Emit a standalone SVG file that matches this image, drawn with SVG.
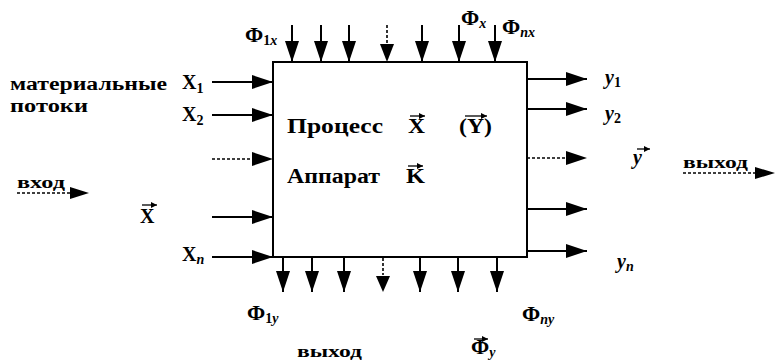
<svg xmlns="http://www.w3.org/2000/svg" width="775" height="361" viewBox="0 0 775 361">
<defs>
<marker id="ah" markerUnits="userSpaceOnUse" markerWidth="22" markerHeight="14" refX="21" refY="7" orient="auto">
<path d="M0,0 L21,7 L0,14 Z" fill="#000"/>
</marker>
<marker id="vh" markerUnits="userSpaceOnUse" markerWidth="6" markerHeight="6" refX="6" refY="3" orient="auto">
<path d="M0,0 L6,3 L0,6 Z" fill="#000"/>
</marker>
<style>
.t{font-family:"Liberation Serif","Times New Roman","DejaVu Serif",serif;font-weight:bold;fill:#000;font-size:20px}
.f{font-size:22px}
.s{font-size:14px}
.i{font-style:italic}
.ln{stroke:#000;stroke-width:2;fill:none}
.ar{stroke:#000;stroke-width:2;fill:none;marker-end:url(#ah)}
.dt{stroke:#000;stroke-width:1.6;fill:none;stroke-dasharray:3 2}
.vec{stroke:#000;stroke-width:1.3;fill:none;marker-end:url(#vh)}
</style>
</defs>
<rect width="775" height="361" fill="#fff"/>

<g id="apparatus">
<rect x="273" y="62" width="254" height="195" class="ln"/>
<text class="t" x="287" y="133" textLength="96" lengthAdjust="spacingAndGlyphs">Процесс</text>
<text class="t" x="408" y="133" textLength="17" lengthAdjust="spacingAndGlyphs">X</text>
<line class="vec" x1="410" y1="116" x2="425" y2="116"/>
<text class="t" x="459" y="133" textLength="33" lengthAdjust="spacingAndGlyphs">(Y)</text>
<line class="vec" x1="465" y1="116" x2="487" y2="116"/>
<text class="t" x="287" y="183" textLength="93" lengthAdjust="spacingAndGlyphs">Аппарат</text>
<text class="t" x="406" y="183" textLength="19" lengthAdjust="spacingAndGlyphs">K</text>
<line class="vec" x1="408" y1="166" x2="423" y2="166"/>
</g>

<g id="connectors">
<line class="ar" x1="292" y1="25" x2="292" y2="62"/>
<line class="ar" x1="321" y1="25" x2="321" y2="62"/>
<line class="ar" x1="349" y1="25" x2="349" y2="62"/>
<line class="dt" x1="387" y1="25" x2="387" y2="44"/>
<path d="M380,44 L394,44 L387,62 Z" fill="#000"/>
<line class="ar" x1="422" y1="25" x2="422" y2="62"/>
<line class="ar" x1="459" y1="25" x2="459" y2="62"/>
<line class="ar" x1="495" y1="25" x2="495" y2="62"/>
<line class="ar" x1="283" y1="257" x2="283" y2="292"/>
<line class="ar" x1="312" y1="257" x2="312" y2="292"/>
<line class="ar" x1="344" y1="257" x2="344" y2="292"/>
<line class="dt" x1="383" y1="258" x2="383" y2="275"/>
<path d="M376,276 L390,276 L383,292 Z" fill="#000"/>
<line class="ar" x1="420" y1="257" x2="420" y2="292"/>
<line class="ar" x1="458" y1="257" x2="458" y2="292"/>
<line class="ar" x1="497" y1="257" x2="497" y2="292"/>
<line class="ar" x1="212" y1="82" x2="273" y2="82"/>
<line class="ar" x1="212" y1="115" x2="273" y2="115"/>
<line class="dt" x1="212" y1="159" x2="252" y2="159"/>
<path d="M252,152 L273,159 L252,166 Z" fill="#000"/>
<line class="ar" x1="212" y1="217" x2="273" y2="217"/>
<line class="ar" x1="212" y1="257" x2="273" y2="257"/>
<line class="ar" x1="527" y1="79" x2="587" y2="79"/>
<line class="ar" x1="527" y1="109" x2="587" y2="109"/>
<line class="dt" x1="527" y1="158" x2="566" y2="158"/>
<path d="M566,151 L587,158 L566,165 Z" fill="#000"/>
<line class="ar" x1="527" y1="209" x2="587" y2="209"/>
<line class="ar" x1="527" y1="251" x2="587" y2="251"/>
<line class="dt" x1="17" y1="193" x2="70" y2="193"/>
<path d="M70,187 L89,193 L70,199 Z" fill="#000"/>
<line class="dt" x1="683" y1="173" x2="755" y2="173"/>
<path d="M755,167 L775,173 L755,179 Z" fill="#000"/>
</g>

<g id="labels">
<text class="t f" x="245" y="42">Φ<tspan class="s" dy="3">1<tspan class="i">x</tspan></tspan></text>
<text class="t f" x="461" y="25">Φ<tspan class="s i" dy="3">x</tspan></text>
<text class="t f" x="502" y="34">Φ<tspan class="s i" dy="3">nx</tspan></text>
<text class="t" x="10" y="90" textLength="157" lengthAdjust="spacingAndGlyphs" style="font-size:18px">материальные</text>
<text class="t" x="10" y="112" textLength="78" lengthAdjust="spacingAndGlyphs" style="font-size:18px">потоки</text>
<text class="t" x="182" y="89">X<tspan class="s" dy="4">1</tspan></text>
<text class="t" x="182" y="121">X<tspan class="s" dy="4">2</tspan></text>
<text class="t" x="182" y="261">X<tspan class="s i" dy="3">n</tspan></text>
<text class="t" x="140" y="223">X</text>
<line class="vec" x1="142" y1="205" x2="157" y2="205"/>
<text class="t" x="17" y="188" textLength="48" lengthAdjust="spacingAndGlyphs" style="font-size:16px">вход</text>
<text class="t i" x="605" y="84">y<tspan class="s" style="font-style:normal" dy="3">1</tspan></text>
<text class="t i" x="605" y="120">y<tspan class="s" style="font-style:normal" dy="3">2</tspan></text>
<text class="t i" x="633" y="164">y</text>
<line class="vec" x1="637" y1="149" x2="650" y2="149"/>
<text class="t" x="683" y="168" textLength="65" lengthAdjust="spacingAndGlyphs" style="font-size:17px">выход</text>
<text class="t i" x="617" y="268">y<tspan class="s" dy="3">n</tspan></text>
<text class="t f" x="247" y="320">Φ<tspan class="s" dy="3">1<tspan class="i">y</tspan></tspan></text>
<text class="t f" x="522" y="321">Φ<tspan class="s i" dy="3">ny</tspan></text>
<text class="t f" x="471" y="354">Φ<tspan class="s i" dy="3">y</tspan></text>
<line class="vec" x1="474" y1="339" x2="488" y2="339"/>
<text class="t" x="297" y="357" textLength="65" lengthAdjust="spacingAndGlyphs" style="font-size:17px">выход</text>
</g>
</svg>
